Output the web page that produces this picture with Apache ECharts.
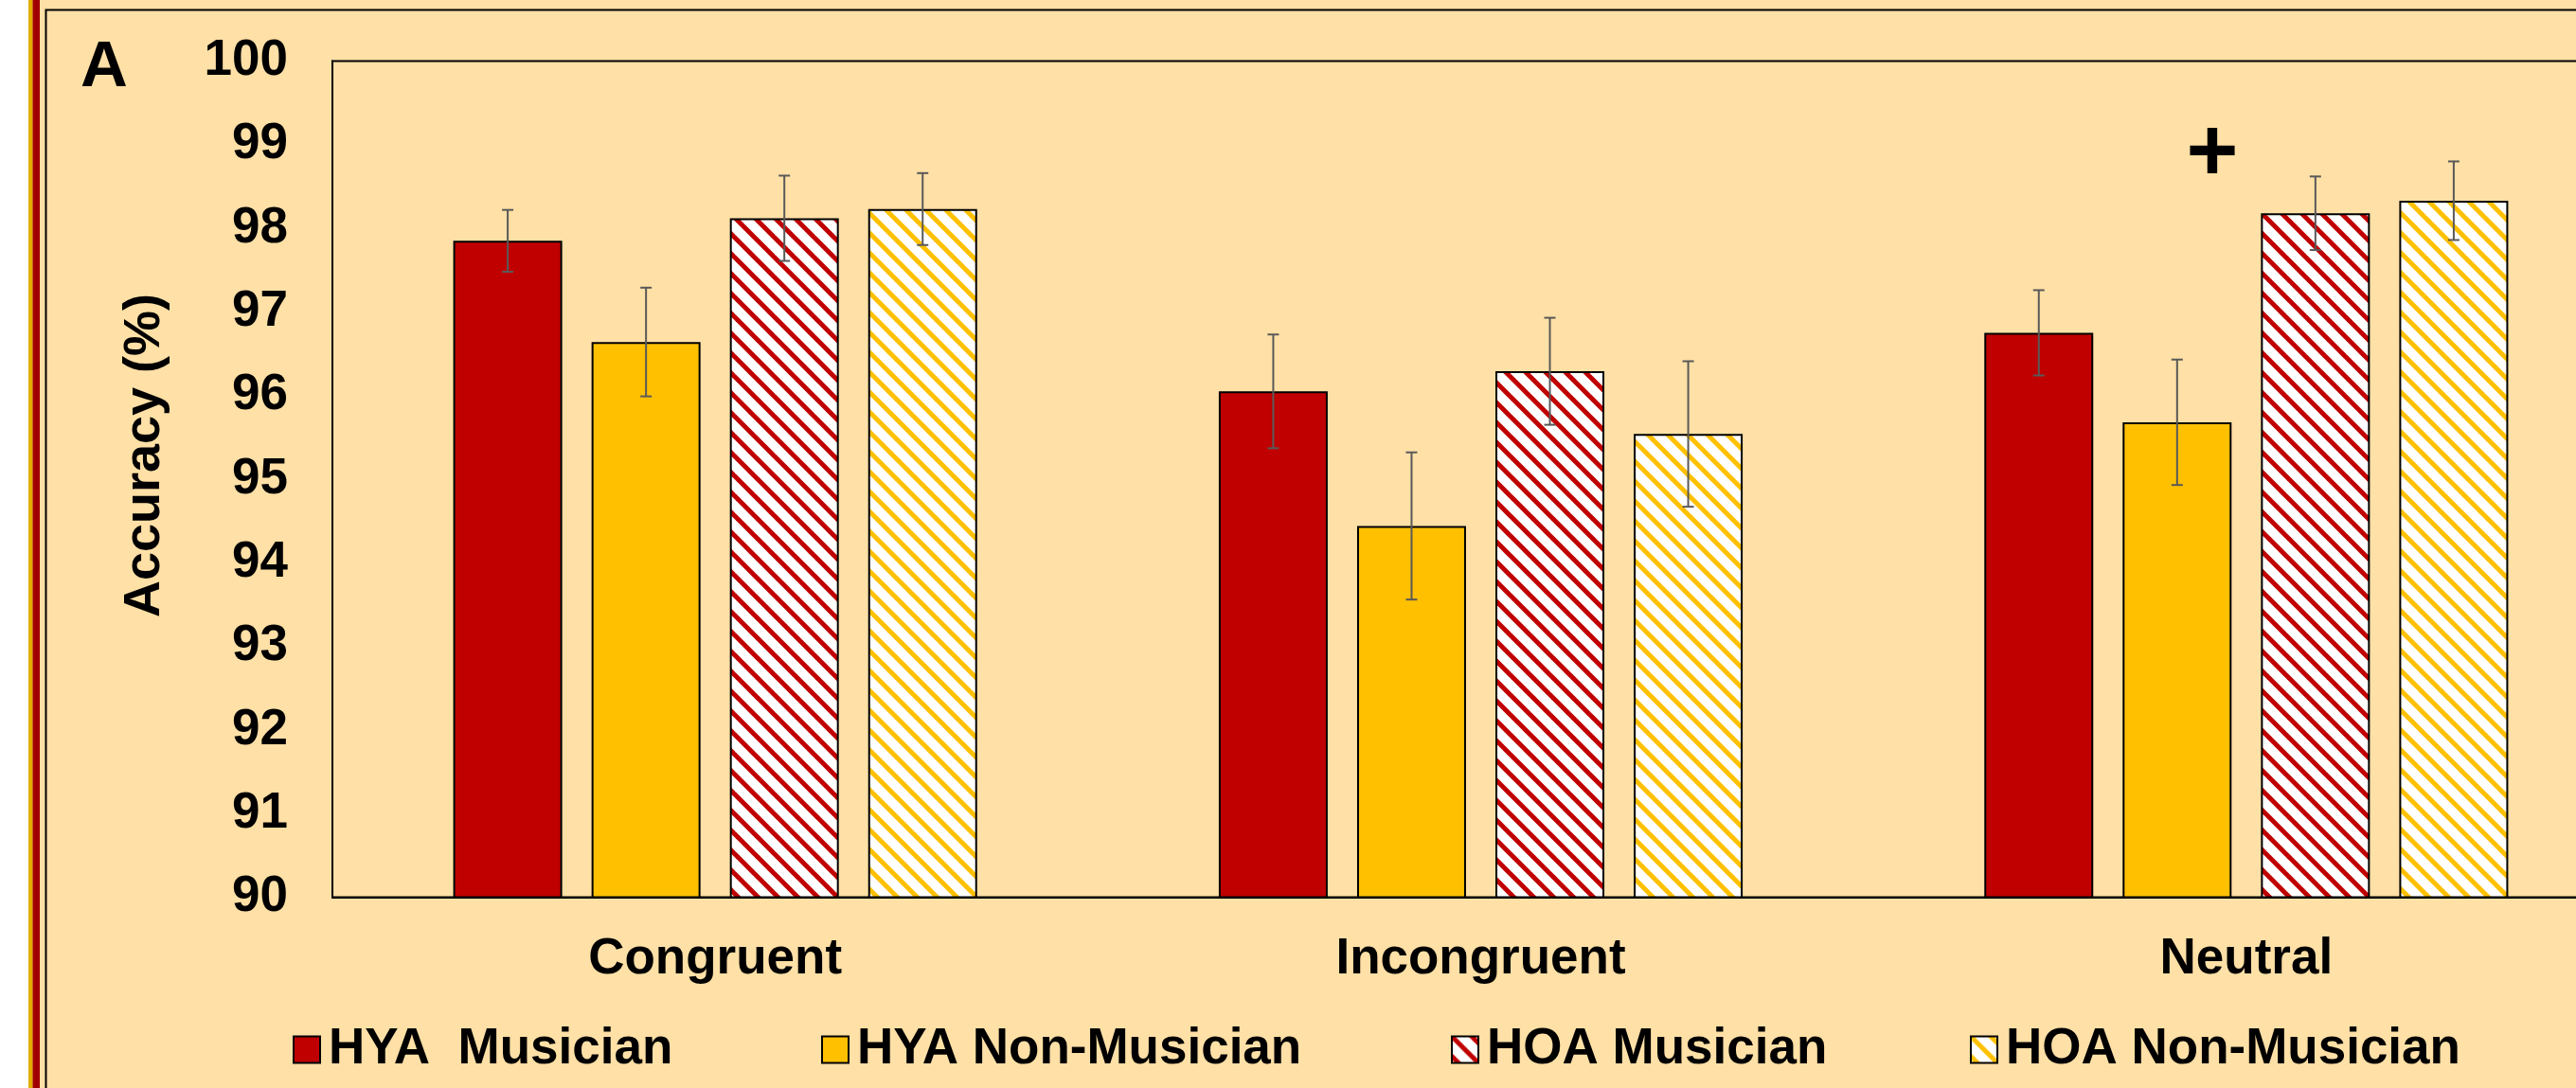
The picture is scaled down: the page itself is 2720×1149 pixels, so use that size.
<!DOCTYPE html>
<html>
<head>
<meta charset="utf-8">
<script src="https://cdn.jsdelivr.net/npm/echarts@6/dist/echarts.min.js"></script>
<style>
  html, body { margin: 0; padding: 0; background: #FFE0A6; overflow: hidden; }
  /* the plot area runs on past the right edge of the window */
  #chart { width: 2776px; height: 1149px; }
</style>
</head>
<body>
<div id="chart"></div>
<script>
// Accuracy by condition and group (mean ± SE)
const categories = ['Congruent', 'Incongruent', 'Neutral'];
const seriesNames = ['HYA  Musician', 'HYA Non-Musician', 'HOA Musician', 'HOA Non-Musician'];

const hyaMusician      = [97.85, 96.05, 96.75];
const hyaNonMusician   = [96.64, 94.44, 95.68];
const hoaMusician      = [98.12, 96.29, 98.18];
const hoaNonMusician   = [98.23, 95.54, 98.33];

const hyaMusicianErr    = [0.37, 0.68, 0.51];
const hyaNonMusicianErr = [0.65, 0.88, 0.75];
const hoaMusicianErr    = [0.51, 0.64, 0.44];
const hoaNonMusicianErr = [0.43, 0.87, 0.47];

const yMin = 90, yMax = 100, yStep = 1;
const panelLetter = 'A';
const yTitle = 'Accuracy (%)';
const sigMark = '+';

// layout / style
const FONT = '"Liberation Sans", Arial, sans-serif';
const RED = '#C00000', GOLD = '#FFC000', BG = '#FFE0A6';
const BAR_W = 115, BAR_GAP = 0.27;
const LEGEND_X = [309, 867, 1532, 2080];

function stripes(color) {
  const s = 21;
  const c = document.createElement('canvas');
  c.width = s; c.height = s;
  const g = c.getContext('2d');
  g.fillStyle = '#ffffff';
  g.fillRect(0, 0, s, s);
  g.strokeStyle = color;
  g.lineWidth = 5;
  for (const o of [-s, 0, s]) {
    g.beginPath();
    g.moveTo(o - 3, -3);
    g.lineTo(o + s + 3, s + 3);
    g.stroke();
  }
  return c;
}

const fills = [RED, GOLD, { image: stripes(RED), repeat: 'repeat' }, { image: stripes(GOLD), repeat: 'repeat' }];
const values = [hyaMusician, hyaNonMusician, hoaMusician, hoaNonMusician];
const errors = [hyaMusicianErr, hyaNonMusicianErr, hoaMusicianErr, hoaNonMusicianErr];

const barSeries = seriesNames.map((name, k) => ({
  type: 'bar',
  name: name,
  data: values[k],
  barWidth: BAR_W,
  barGap: (BAR_GAP * 100) + '%',
  itemStyle: { color: fills[k], borderColor: '#000', borderWidth: 2 },
  emphasis: { disabled: true },
  z: 2
}));

function errorSeries(k) {
  return {
    type: 'custom',
    name: 'se' + k,
    silent: true,
    z: 5,
    data: values[k].map((v, i) => [i, v, errors[k][i]]),
    encode: { x: 0, y: 1 },
    renderItem(params, api) {
      const i = api.value(0), v = api.value(1), e = api.value(2);
      const pitch = BAR_W * (1 + BAR_GAP);
      const x = api.coord([i, v])[0] + (k - 1.5) * pitch;
      const yHi = api.coord([i, v + e])[1];
      const yLo = api.coord([i, v - e])[1];
      const st = { stroke: '#595959', lineWidth: 2 };
      return {
        type: 'group',
        children: [
          { type: 'line', shape: { x1: x, y1: yHi, x2: x, y2: yLo }, style: st },
          { type: 'line', shape: { x1: x - 6, y1: yHi, x2: x + 6, y2: yHi }, style: st },
          { type: 'line', shape: { x1: x - 6, y1: yLo, x2: x + 6, y2: yLo }, style: st }
        ]
      };
    }
  };
}

const legends = seriesNames.map((name, k) => ({
  data: [name],
  left: LEGEND_X[k],
  top: 1082,
  padding: 0,
  icon: 'rect',
  itemWidth: 28,
  itemHeight: 28,
  selectedMode: false,
  textStyle: { fontFamily: FONT, fontWeight: 'bold', fontSize: 53, color: '#000', padding: [0, 0, 0, 4] }
}));

const chart = echarts.init(document.getElementById('chart'), null, { renderer: 'canvas' });

chart.setOption({
  backgroundColor: BG,
  animation: false,
  textStyle: { fontFamily: FONT },
  grid: {
    left: 351, right: 0, top: 64.5, bottom: 201.5,
    show: true, borderColor: '#000', borderWidth: 2, backgroundColor: 'transparent'
  },
  legend: legends,
  xAxis: {
    type: 'category',
    data: categories,
    axisLine: { show: true, lineStyle: { color: '#000', width: 2 } },
    axisTick: { show: false },
    axisLabel: { fontFamily: FONT, fontWeight: 'bold', fontSize: 53, color: '#000', margin: 39 }
  },
  yAxis: {
    type: 'value',
    min: yMin, max: yMax, interval: yStep,
    axisLine: { show: true, lineStyle: { color: '#000', width: 2 } },
    axisTick: { show: false },
    splitLine: { show: false },
    axisLabel: { fontFamily: FONT, fontWeight: 'bold', fontSize: 53, color: '#000', margin: 47 }
  },
  series: barSeries.concat(seriesNames.map((n, k) => errorSeries(k))),
  graphic: [
    { id: 'edgeWhite', type: 'rect', shape: { x: 0, y: 0, width: 30, height: 1149 }, style: { fill: '#ffffff' }, silent: true },
    { id: 'edgeGold', type: 'rect', shape: { x: 30, y: 0, width: 4.5, height: 1149 }, style: { fill: '#E2AE00' }, silent: true },
    { id: 'edgeRed', type: 'rect', shape: { x: 34.5, y: 0, width: 7.5, height: 1149 }, style: { fill: '#A00000' }, silent: true },
    { id: 'frame', type: 'rect', shape: { x: 48.5, y: 10.5, width: 3000, height: 3000 }, style: { fill: 'none', stroke: '#000', lineWidth: 2 }, silent: true },
    { id: 'letter', type: 'text', x: 110, y: 72, style: { text: panelLetter, font: 'bold 69px ' + FONT, fill: '#000', textAlign: 'center', textVerticalAlign: 'middle' }, silent: true },
    { id: 'ytitle', type: 'text', x: 153, y: 481, rotation: Math.PI / 2, style: { text: yTitle, font: 'bold 54px ' + FONT, fill: '#000', textAlign: 'center', textVerticalAlign: 'middle' }, silent: true }
  ]
});

// significance marker above the Neutral condition
const plusPt = chart.convertToPixel({ gridIndex: 0 }, ['Neutral', 98.87]);
chart.setOption({
  graphic: [
    { id: 'sig', type: 'text', x: plusPt[0] - 36, y: plusPt[1], style: { text: sigMark, font: 'bold 94px ' + FONT, fill: '#000', textAlign: 'center', textVerticalAlign: 'middle' }, silent: true }
  ]
});
</script>
</body>
</html>
